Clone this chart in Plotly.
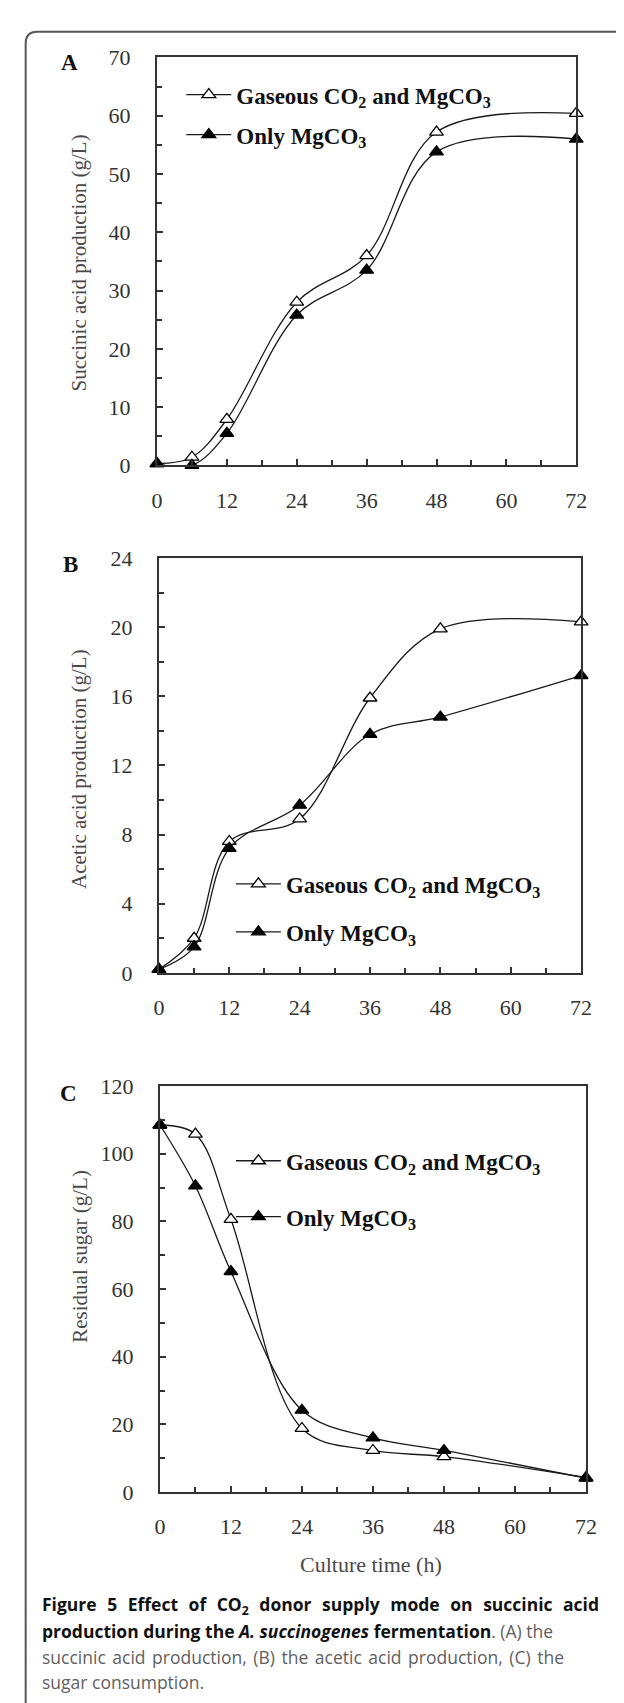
import plotly.graph_objects as go

# ---------------- data ----------------
time_h = [0, 6, 12, 24, 36, 48, 72]
succinic_gas = [0.3, 1.4, 7.9, 28.0, 36.0, 57.2, 60.4]
succinic_mg = [0.3, 0.0, 5.5, 25.8, 33.5, 53.8, 56.0]
acetic_gas = [0.2, 2.0, 7.6, 8.9, 15.9, 19.9, 20.3]
acetic_mg = [0.2, 1.5, 7.2, 9.7, 13.8, 14.8, 17.2]
sugar_gas = [108.5, 105.8, 80.6, 18.8, 12.3, 10.5, 4.3]
sugar_mg = [108.5, 90.5, 65.2, 24.2, 16.0, 12.3, 4.1]

series_names = ["Gaseous CO<sub>2</sub> and MgCO<sub>3</sub>", "Only MgCO<sub>3</sub>"]
panel_letters = ["A", "B", "C"]
y_titles = ["Succinic acid production (g/L)", "Acetic acid production (g/L)", "Residual sugar (g/L)"]
x_title = "Culture time (h)"
y_ranges = [(0, 70), (0, 24), (0, 120)]
y_dticks = [10, 4, 20]
y_minor = [5, 2, 10]
x_ticks = [0, 12, 24, 36, 48, 60, 72]

W, H = 624, 1703
def fx(px):
    return px / W
def fy(py):
    return 1 - py / H

# panel boxes in pixels (left, right, top, bottom)
boxes = [(147, 578, 38, 452), (149, 583, 546, 967), (150, 588, 1082, 1494)]

fig = go.Figure()
serif = "Liberation Serif"
axis_col = "#333333"

data_sets = [(succinic_gas, succinic_mg), (acetic_gas, acetic_mg), (sugar_gas, sugar_mg)]
legend_keys = ["legend", "legend2", "legend3"]

for i, (gas, mg) in enumerate(data_sets):
    xa = "x" if i == 0 else f"x{i+1}"
    ya = "y" if i == 0 else f"y{i+1}"
    for j, (vals, fill) in enumerate([(gas, "white"), (mg, "black")]):
        fig.add_trace(go.Scatter(
            x=time_h, y=vals, xaxis=xa, yaxis=ya,
            mode="lines+markers",
            name=series_names[j],
            legend=legend_keys[i],
            legendgroup=f"g{i}{j}",
            line=dict(color="#1a1a1a", width=1.3, shape="spline", smoothing=1.0),
            marker=dict(symbol="triangle-up", size=12, color=fill,
                        line=dict(color="black", width=1.3)),
            cliponaxis=False,
        ))

layout = dict(
    width=W, height=H, autosize=False,
    margin=dict(l=0, r=0, t=0, b=0),
    paper_bgcolor="white", plot_bgcolor="white",
    showlegend=True,
)

for i, (l, r, t, b) in enumerate(boxes):
    sx = "" if i == 0 else str(i + 1)
    layout["xaxis" + sx] = dict(
        domain=[fx(l), fx(r)], anchor="y" + sx, range=[0, 72],
        tickmode="array", tickvals=x_ticks, ticktext=[str(v) for v in x_ticks],
        ticks="inside", ticklen=6, tickwidth=1.5, tickcolor=axis_col,
        minor=dict(dtick=6, tick0=0, ticks="inside", ticklen=5, tickwidth=1.5, tickcolor=axis_col),
        showline=True, linewidth=2, linecolor=axis_col, mirror=True,
        showgrid=False, zeroline=False,
        tickfont=dict(family=serif, size=22, color="#333"),
        ticklabelstandoff=14,
    )
    y0, y1 = y_ranges[i]
    layout["yaxis" + sx] = dict(
        domain=[fy(b), fy(t)], anchor="x" + sx, range=[y0, y1],
        dtick=y_dticks[i], tick0=0,
        ticks="inside", ticklen=6, tickwidth=1.5, tickcolor=axis_col,
        minor=dict(dtick=y_minor[i], tick0=0, ticks="inside", ticklen=5, tickwidth=1.5, tickcolor=axis_col),
        showline=True, linewidth=2, linecolor=axis_col, mirror=True,
        showgrid=False, zeroline=False,
        tickfont=dict(family=serif, size=22, color="#333"),
        ticklabelstandoff=20,
    )

# legends
legend_pos = [(172, 72, 113), (223, 873, 922), (223, 1154, 1211)]
for i, (lx, r1, r2) in enumerate(legend_pos):
    key = legend_keys[i]
    gap = max((r2 - r1) - 34, 0)
    layout[key] = dict(
        x=fx(lx), y=fy(r1 - 18), xanchor="left", yanchor="top",
        bgcolor="rgba(0,0,0,0)", borderwidth=0,
        font=dict(family=serif, size=23, color="#111", weight="bold"),
        itemwidth=45, tracegroupgap=gap, traceorder="grouped",
    )

fig.update_layout(**layout)

annotations = []
letter_pos = [(57, 43), (58, 553), (56, 1089)]
for (px, py), letter in zip(letter_pos, panel_letters):
    annotations.append(dict(x=fx(px), y=fy(py), xref="paper", yref="paper",
                            text=f"<b>{letter}</b>", showarrow=False,
                            font=dict(family=serif, size=23, color="#111"),
                            xanchor="center", yanchor="middle"))
ytitle_pos = [(67, 247), (67, 760), (67, 1255)]
for (px, py), txt in zip(ytitle_pos, y_titles):
    annotations.append(dict(x=fx(px), y=fy(py), xref="paper", yref="paper",
                            text=txt, textangle=-90, showarrow=False,
                            font=dict(family=serif, size=21, color="#4a4a4a"),
                            xanchor="center", yanchor="middle"))
annotations.append(dict(x=fx(367), y=fy(1568), xref="paper", yref="paper",
                        text=x_title, showarrow=False,
                        font=dict(family=serif, size=22, color="#4a4a4a"),
                        xanchor="center", yanchor="middle"))

gray = "#5f5f5f"
caption_lines = [
    "<span style='word-spacing:6px'><b>Figure 5 Effect of CO<sub>2</sub> donor supply mode on succinic acid</b></span>",
    f"<b>production during the <i>A. succinogenes</i> fermentation</b><span style='color:{gray}'>. (A) the</span>",
    f"<span style='color:{gray};word-spacing:2px'>succinic acid production, (B) the acetic acid production, (C) the</span>",
    f"<span style='color:{gray}'>sugar consumption.</span>",
]
cap_y = [1609, 1635, 1661, 1687]
for txt, py in zip(caption_lines, cap_y):
    annotations.append(dict(x=fx(27), y=fy(py), xref="paper", yref="paper",
                            text=txt, showarrow=False, align="left",
                            font=dict(family="Open Sans", size=17.5, color="#111"),
                            xanchor="left", yanchor="middle"))

fig.update_layout(annotations=annotations)

# frame: rounded top-left corner, continuing past right and bottom edges
fl, ft, rad = 12, 12, 12
path = (f"M {fx(fl)},{fy(H + 5)} L {fx(fl)},{fy(ft + rad)} "
        f"Q {fx(fl)},{fy(ft)} {fx(fl + rad)},{fy(ft)} L {fx(W + 5)},{fy(ft)}")
fig.update_layout(shapes=[dict(type="path", xref="paper", yref="paper", path=path,
                               line=dict(color="#555", width=2))])

fig.write_html("out.html")
